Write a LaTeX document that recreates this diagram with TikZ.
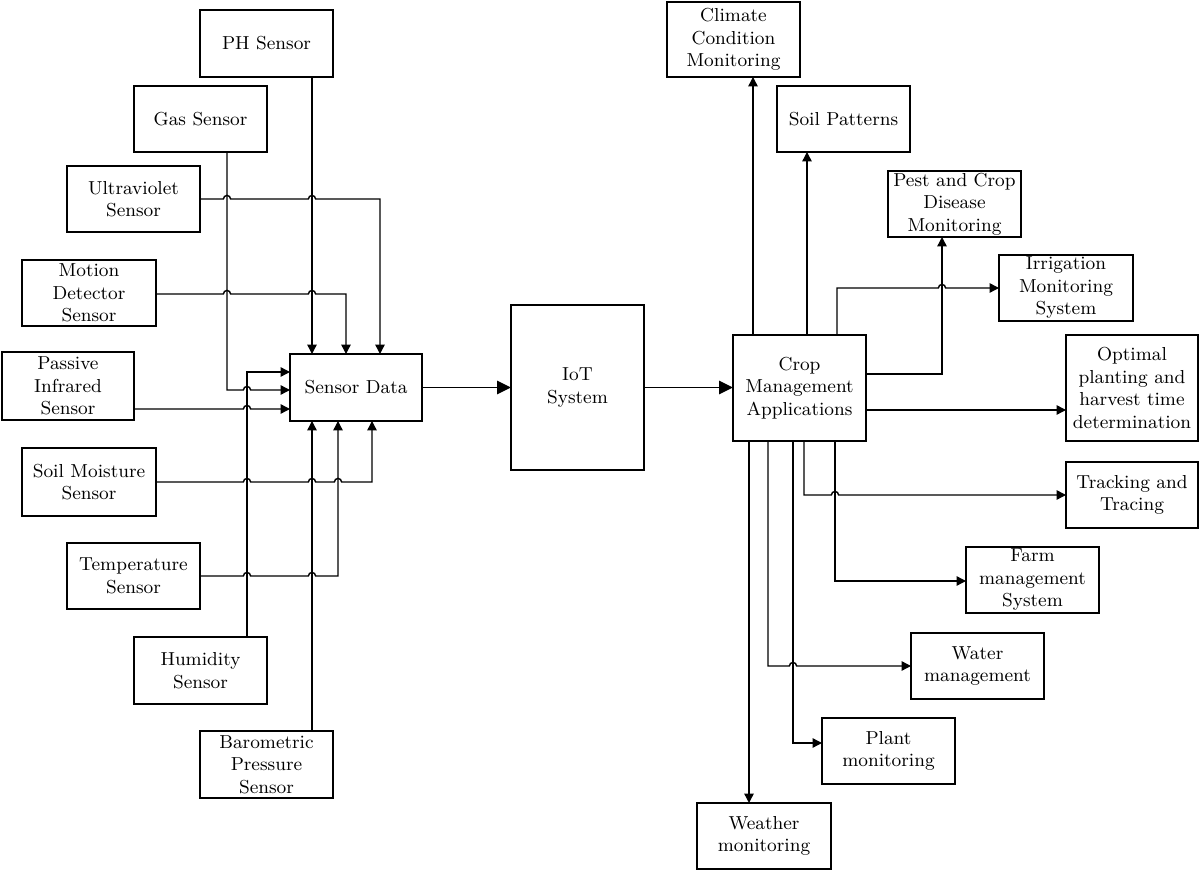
\documentclass[tikz,border=0pt]{standalone}
\usetikzlibrary{arrows.meta}
\newcommand\hop[2]{-- ([xshift=-1.8pt]#1 |- #2) arc[start angle=180,end angle=0,radius=1.8pt]}
\newcommand\bx[6]{\node[box, minimum width={(#4-#2)*0.5pt}, minimum height={(#5-#3)*0.5pt}] (#1) at ({(#2+#4)/2},{(#3+#5)/2}) {#6};}
\begin{document}
\begin{tikzpicture}[x=0.5pt,y=-0.5pt,
  box/.style={draw, line width=0.7pt, inner sep=0pt, outer sep=0pt, align=center, font=\fontsize{9.4}{11.25}\selectfont},
  conn/.style={line width=0.7pt},
  arr/.style={conn, -{Triangle[length=4.7pt,width=4.7pt]}},
  bigarr/.style={conn, -{Triangle[length=7pt,width=6.8pt]}}]
\useasboundingbox (0,0) rectangle (1200,871);
% sensors
\bx{ph}{200}{10}{333}{77}{PH Sensor}
\bx{gas}{134}{86}{267}{152}{Gas Sensor}
\bx{uv}{67}{166}{200}{232}{Ultraviolet\\Sensor}
\bx{mo}{22}{260}{156}{326}{Motion\\Detector\\Sensor}
\bx{pir}{2}{352}{134}{420}{Passive\\Infrared\\Sensor}
\bx{sm}{22}{448}{156}{516}{Soil Moisture\\Sensor}
\bx{temp}{67}{543}{200}{609}{Temperature\\Sensor}
\bx{hum}{134}{637}{267}{704}{Humidity\\Sensor}
\bx{baro}{200}{731}{333}{798}{Barometric\\Pressure\\Sensor}
\bx{sd}{290}{354}{422}{421}{Sensor Data}
\bx{iot}{511}{305}{644}{470}{IoT\\System}
\bx{crop}{733}{335}{866}{441}{Crop\\Management\\Applications}
% applications
\bx{clim}{667}{2}{800}{77}{Climate\\Condition\\Monitoring}
\bx{sp}{777}{86}{910}{152}{Soil Patterns}
\bx{pest}{888}{171}{1021}{237}{Pest and Crop\\Disease\\Monitoring}
\bx{irr}{999}{255}{1133}{321}{Irrigation\\Monitoring\\System}
\bx{opt}{1066}{335}{1198}{441}{Optimal\\planting and\\harvest time\\determination}
\bx{track}{1066}{462}{1198}{528}{Tracking and\\Tracing}
\bx{farm}{966}{547}{1099}{613}{Farm\\management\\System}
\bx{water}{911}{633}{1044}{699}{Water\\management}
\bx{plant}{822}{718}{955}{784}{Plant\\monitoring}
\bx{weather}{697}{803}{831}{869}{Weather\\monitoring}
% column / row helpers (left)
\coordinate (cGas) at (227,0);
\coordinate (cHum) at (247,0);
\coordinate (cPH) at (312,0);
\coordinate (cTemp) at (338,0);
\coordinate (cMo) at (346,0);
\coordinate (cSoil) at (372,0);
\coordinate (cUV) at (380,0);
\coordinate (rUV) at (0,199);
\coordinate (rMo) at (0,294);
\coordinate (rHum) at (0,372);
\coordinate (rGas) at (0,390);
\coordinate (rPIR) at (0,409);
\coordinate (rSoil) at (0,482);
\coordinate (rTemp) at (0,576);
% column / row helpers (right)
\coordinate (cW) at (749,0);
\coordinate (cClim) at (753,0);
\coordinate (cWa) at (768,0);
\coordinate (cPl) at (793,0);
\coordinate (cTr) at (804,0);
\coordinate (cSP) at (807,0);
\coordinate (cFarm) at (835,0);
\coordinate (cIrr) at (837,0);
\coordinate (cPest) at (942,0);
\coordinate (rIrr) at (0,288);
\coordinate (rPest) at (0,374);
\coordinate (rOpt) at (0,410);
\coordinate (rTr) at (0,495);
\coordinate (rFarm) at (0,581);
\coordinate (rWa) at (0,666);
\coordinate (rPl) at (0,743);
% left connectors
\draw[arr] (ph.south -| cPH) -- (sd.north -| cPH);
\draw[arr] (baro.north -| cPH) -- (sd.south -| cPH);
\draw[arr] (uv.east |- rUV) \hop{cGas}{rUV} \hop{cPH}{rUV} -- (cUV |- rUV) -- (sd.north -| cUV);
\draw[arr] (mo.east |- rMo) \hop{cGas}{rMo} \hop{cPH}{rMo} -- (cMo |- rMo) -- (sd.north -| cMo);
\draw[arr] (gas.south -| cGas) -- (cGas |- rGas) \hop{cHum}{rGas} -- (sd.west |- rGas);
\draw[arr] (hum.north -| cHum) -- (cHum |- rHum) -- (sd.west |- rHum);
\draw[arr] (pir.east |- rPIR) \hop{cHum}{rPIR} -- (sd.west |- rPIR);
\draw[arr] (sm.east |- rSoil) \hop{cHum}{rSoil} \hop{cPH}{rSoil} \hop{cTemp}{rSoil} -- (cSoil |- rSoil) -- (sd.south -| cSoil);
\draw[arr] (temp.east |- rTemp) \hop{cHum}{rTemp} \hop{cPH}{rTemp} -- (cTemp |- rTemp) -- (sd.south -| cTemp);
% main chain
\draw[bigarr] (sd.east) -- (iot.west |- sd.east);
\draw[bigarr] (iot.east) -- (crop.west |- iot.east);
% right connectors
\draw[arr] (crop.north -| cClim) -- (clim.south -| cClim);
\draw[arr] (crop.north -| cSP) -- (sp.south -| cSP);
\draw[arr] (crop.north -| cIrr) -- (cIrr |- rIrr) \hop{cPest}{rIrr} -- (irr.west |- rIrr);
\draw[arr] (crop.east |- rPest) -- (cPest |- rPest) -- (pest.south -| cPest);
\draw[arr] (crop.east |- rOpt) -- (opt.west |- rOpt);
\draw[arr] (crop.south -| cTr) -- (cTr |- rTr) \hop{cFarm}{rTr} -- (track.west |- rTr);
\draw[arr] (crop.south -| cFarm) -- (cFarm |- rFarm) -- (farm.west |- rFarm);
\draw[arr] (crop.south -| cWa) -- (cWa |- rWa) \hop{cPl}{rWa} -- (water.west |- rWa);
\draw[arr] (crop.south -| cPl) -- (cPl |- rPl) -- (plant.west |- rPl);
\draw[arr] (crop.south -| cW) -- (weather.north -| cW);
\end{tikzpicture}
\end{document}
